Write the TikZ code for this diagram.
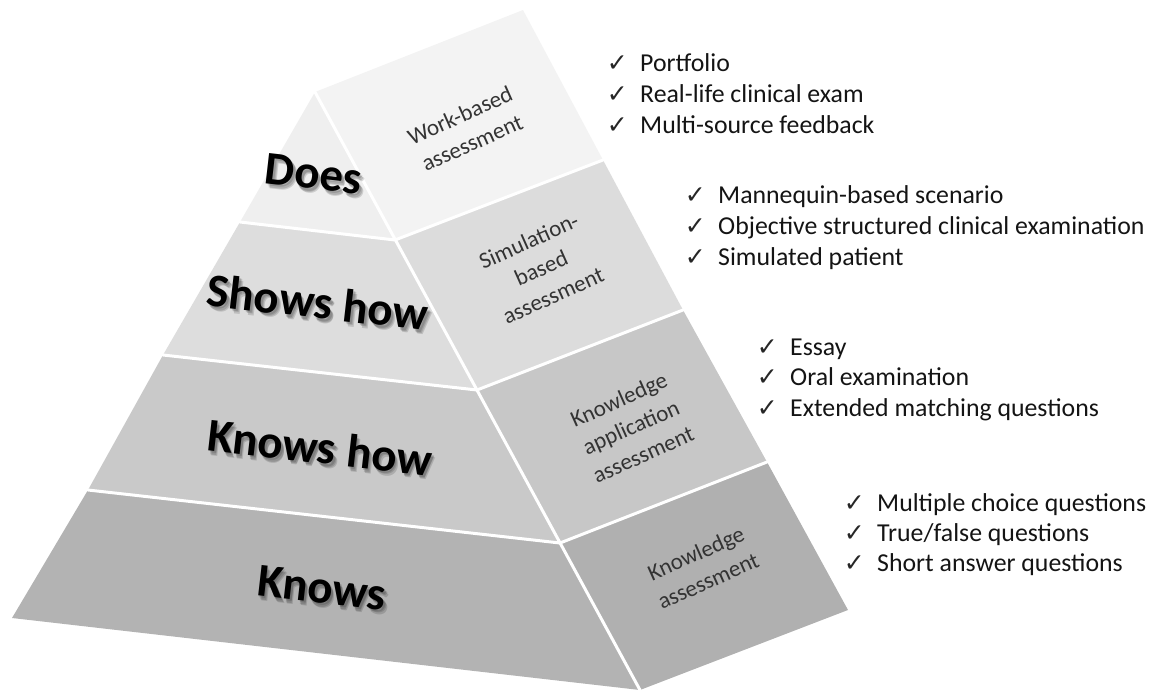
\documentclass[tikz,border=0pt]{standalone}
\usepackage{fontspec}
\setmainfont{Carlito}
\newfontfamily\tickfont{DejaVu Sans}
\definecolor{frontA}{HTML}{EFEFEF}
\definecolor{frontB}{HTML}{DDDDDD}
\definecolor{frontC}{HTML}{C9C9C9}
\definecolor{frontD}{HTML}{B3B3B3}
\definecolor{sideA}{HTML}{F3F3F3}
\definecolor{sideB}{HTML}{DCDCDC}
\definecolor{sideC}{HTML}{C7C7C7}
\definecolor{sideD}{HTML}{B0B0B0}
\definecolor{methodtext}{HTML}{333333}
\begin{document}
\begin{tikzpicture}[x=1pt,y=-1pt,
  seam/.style={draw=white,line width=3pt,line cap=round,line join=round},
  level/.style={font=\fontsize{47}{50}\selectfont\bfseries,rotate=-6.5,inner sep=0pt,text=black},
  levelshadow/.style={level,text=black,text opacity=0.14},
  method/.style={font=\fontsize{23}{30}\selectfont,text=methodtext,align=center,rotate=24,inner sep=0pt},
  item/.style={font=\fontsize{25.8}{31}\selectfont,anchor=base west,inner sep=0pt,text=black!92},
  tick/.style={font=\tickfont\fontsize{25}{26}\selectfont,anchor=base east,inner sep=0pt,text=black!85,xshift=-12pt}
]
\useasboundingbox (0,0) rectangle (1153,691);

% corner points of the pyramid: apex, left edge, ridge, outer edge of the side face
\coordinate (A)  at (315,92);
\coordinate (L1) at (240,222);
\coordinate (L2) at (163,355);
\coordinate (L3) at (88,490);
\coordinate (L4) at (12,618);
\coordinate (R1) at (395,240);
\coordinate (R2) at (477,390);
\coordinate (R3) at (560,543);
\coordinate (R4) at (640,690);
\coordinate (E0) at (523,10);
\coordinate (E1) at (603,160);
\coordinate (E2) at (683,310);
\coordinate (E3) at (767,462);
\coordinate (E4) at (848,610);

% front face tiers
\fill[frontA] (A) -- (R1) -- (L1) -- cycle;
\fill[frontB] (L1) -- (R1) -- (R2) -- (L2) -- cycle;
\fill[frontC] (L2) -- (R2) -- (R3) -- (L3) -- cycle;
\fill[frontD] (L3) -- (R3) -- (R4) -- (L4) -- cycle;

% side face tiers
\fill[sideA] (A) -- (E0) -- (E1) -- (R1) -- cycle;
\fill[sideB] (R1) -- (E1) -- (E2) -- (R2) -- cycle;
\fill[sideC] (R2) -- (E2) -- (E3) -- (R3) -- cycle;
\fill[sideD] (R3) -- (E3) -- (E4) -- (R4) -- cycle;

% white seams between the tiers and along the ridge
\draw[seam] (A) -- (R4);
\draw[seam] (L1) -- (R1) -- (E1);
\draw[seam] (L2) -- (R2) -- (E2);
\draw[seam] (L3) -- (R3) -- (E3);

% level names with a soft drop shadow
\foreach \lab/\txt/\px/\py in {does/Does/314/174, shows/Shows how/318/302, knowshow/Knows how/320/447, knows/Knows/322/588} {
  \foreach \dx/\dy [count=\k] in {2/2, 3/3.5, 4/4.5} {
    \node[levelshadow,xshift=\dx pt,yshift=-\dy pt] (\lab-shadow-\k) at (\px,\py) {\txt};
  }
  \node[level] (\lab) at (\px,\py) {\txt};
}

% assessment kinds on the side face
\node[method] (workbased) at (466,129) {Work-based\\assessment};
\node[method] (simulation) at (541,268) {Simulation-\\based\\assessment};
\node[method] (application) at (631,427) {Knowledge\\application\\assessment};
\node[method] (knowledge) at (702,567) {Knowledge\\assessment};

% example methods for each level
\foreach \txt [count=\i] in {Portfolio, Real-life clinical exam, Multi-source feedback} {
  \node[item] (wb-item-\i) at (640,{71+31*(\i-1)}) {\txt};
  \node[tick] (wb-tick-\i) at (wb-item-\i.base west) {✓};
}
\foreach \txt [count=\i] in {Mannequin-based scenario, Objective structured clinical examination, Simulated patient} {
  \node[item] (sim-item-\i) at (718,{203+31*(\i-1)}) {\txt};
  \node[tick] (sim-tick-\i) at (sim-item-\i.base west) {✓};
}
\foreach \txt [count=\i] in {Essay, Oral examination, Extended matching questions} {
  \node[item] (app-item-\i) at (790,{355+30.5*(\i-1)}) {\txt};
  \node[tick] (app-tick-\i) at (app-item-\i.base west) {✓};
}
\foreach \txt [count=\i] in {Multiple choice questions, True/false questions, Short answer questions} {
  \node[item] (kn-item-\i) at (877,{511+30*(\i-1)}) {\txt};
  \node[tick] (kn-tick-\i) at (kn-item-\i.base west) {✓};
}
\end{tikzpicture}
\end{document}
